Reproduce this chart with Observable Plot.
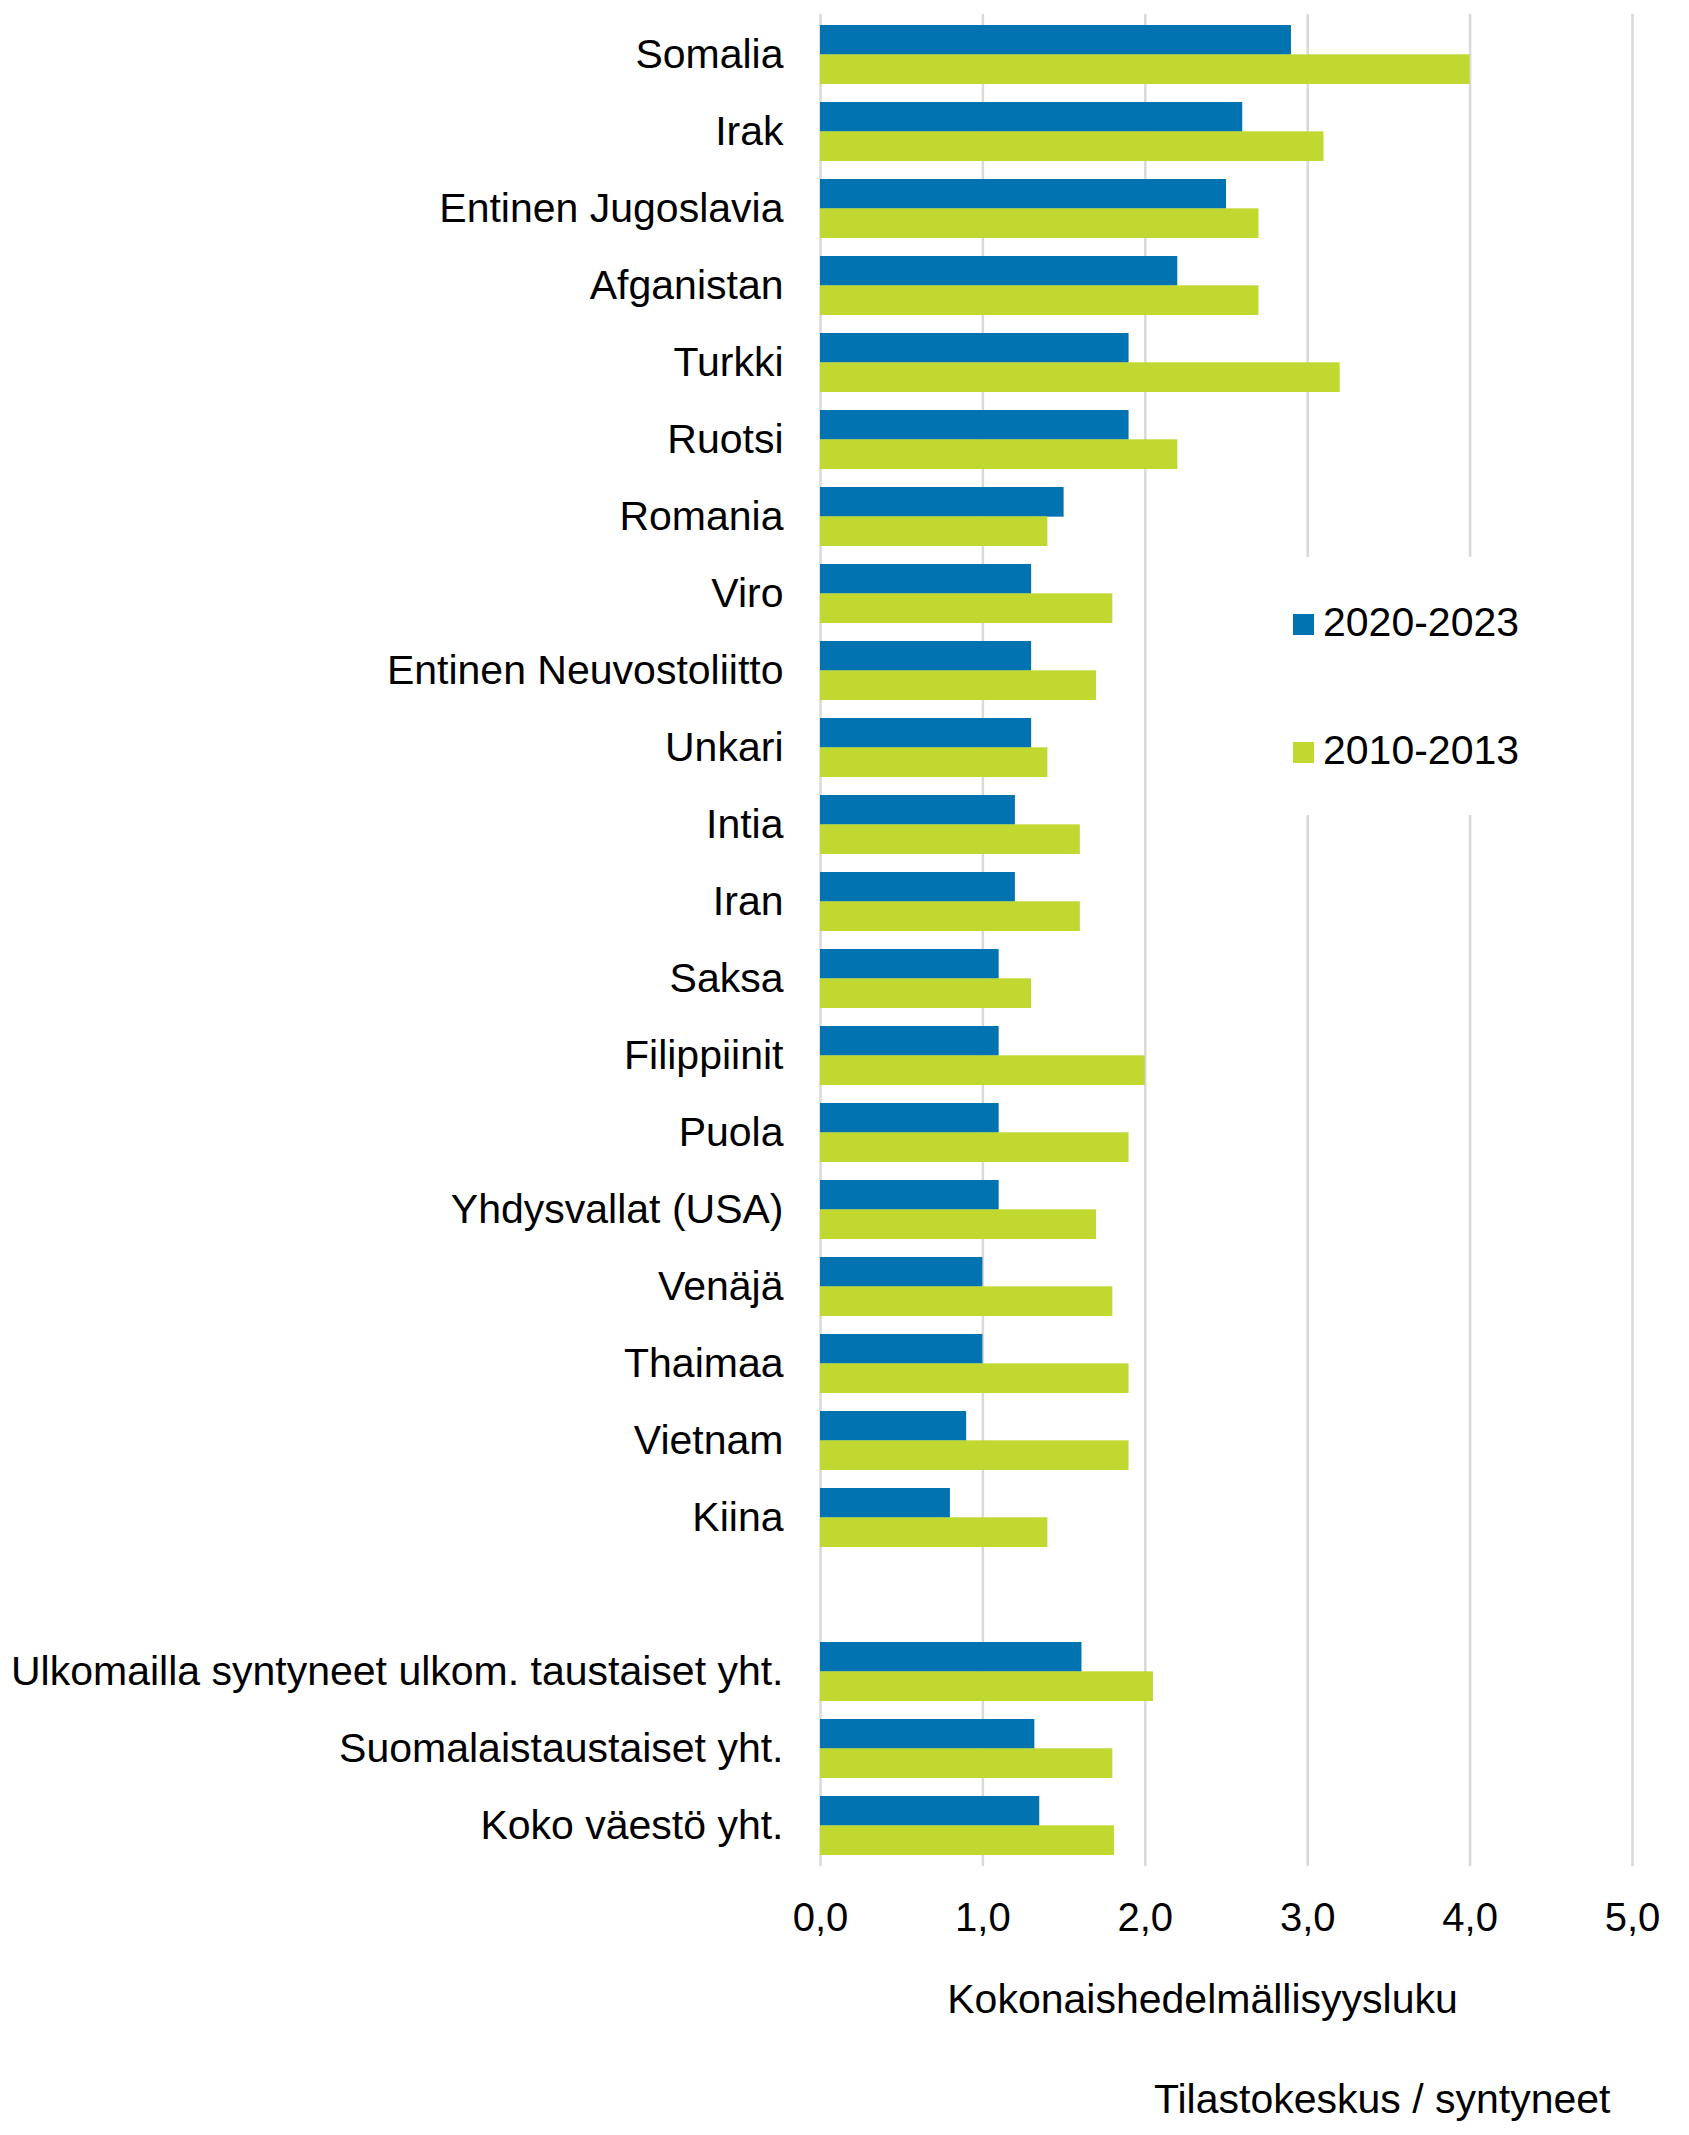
<!DOCTYPE html>
<html>
<head>
<meta charset="utf-8">
<script src="https://cdn.jsdelivr.net/npm/d3@7"></script>
<script src="https://cdn.jsdelivr.net/npm/@observablehq/plot@0.6"></script>
<style>
  html, body { margin: 0; padding: 0; background: #fff; }
  #wrap { position: relative; width: 1689px; height: 2135px; font-family: "Liberation Sans", Arial, sans-serif; }
  #legend { position: absolute; left: 1278px; top: 557px; width: 255px; height: 258px; background: #fff; }
  .item { position: absolute; left: 15px; font-size: 41px; line-height: 41px; color: #000; white-space: nowrap; }
  .sw { position: absolute; width: 21px; height: 21px; }
</style>
</head>
<body>
<div id="wrap"></div>
<script>
// ---- data ----
const categories = ["Somalia","Irak","Entinen Jugoslavia","Afganistan","Turkki","Ruotsi","Romania","Viro",
  "Entinen Neuvostoliitto","Unkari","Intia","Iran","Saksa","Filippiinit","Puola","Yhdysvallat (USA)",
  "Venäjä","Thaimaa","Vietnam","Kiina"," ",
  "Ulkomailla syntyneet ulkom. taustaiset yht.","Suomalaistaustaiset yht.","Koko väestö yht."];
const values2020 = [2.9,2.6,2.5,2.2,1.9,1.9,1.5,1.3,1.3,1.3,1.2,1.2,1.1,1.1,1.1,1.1,1.0,1.0,0.9,0.8,null,1.61,1.32,1.35];
const values2010 = [4.0,3.1,2.7,2.7,3.2,2.2,1.4,1.8,1.7,1.4,1.6,1.6,1.3,2.0,1.9,1.7,1.8,1.9,1.9,1.4,null,2.05,1.80,1.81];
const seriesNames = ["2020-2023","2010-2013"];
const xTicks = [0,1,2,3,4,5];
const axisTitle = "Kokonaishedelmällisyysluku";
const sourceText = "Tilastokeskus / syntyneet";

// ---- layout / style ----
const W = 1689, H = 2135;
const mTop = 14, frameBottom = 1866, mLeft = 820, mRight = 1689 - 1632;
const padInner = 0.24;
const colors = ["#0173b1", "#c0d830"];
const font = "'Liberation Sans', Arial, sans-serif";

const rows2020 = categories.map((c, i) => ({cat: c, v: values2020[i]})).filter(d => d.v != null);
const rows2010 = categories.map((c, i) => ({cat: c, v: values2010[i]})).filter(d => d.v != null);

const step = (frameBottom - mTop) / categories.length;
const half = step * (1 - padInner) / 2;

const fmt = d => d.toFixed(1).replace(".", ",");

const chart = Plot.plot({
  width: W,
  height: H,
  marginTop: mTop,
  marginBottom: H - frameBottom,
  marginLeft: mLeft,
  marginRight: mRight,
  style: {fontFamily: font, color: "#000", background: "#fff"},
  x: {domain: [0, 5]},
  y: {domain: categories, paddingInner: padInner, paddingOuter: padInner / 2},
  marks: [
    Plot.gridX(xTicks, {stroke: "#d9d9d9", strokeWidth: 2.5, strokeOpacity: 1}),
    Plot.barX(rows2020, {y: "cat", x: "v", fill: colors[0], insetBottom: half}),
    Plot.barX(rows2010, {y: "cat", x: "v", fill: colors[1], insetTop: half}),
    Plot.axisY({tickSize: 0, tickPadding: 37, fontSize: 41, label: null}),
    Plot.axisX(xTicks, {tickSize: 0, tickPadding: 36, fontSize: 40, tickFormat: fmt, label: null}),
    Plot.text([axisTitle], {text: d => d, frameAnchor: "bottom", dy: 146, dx: -24, fontSize: 41, fill: "#000"}),
    Plot.text([sourceText], {text: d => d, frameAnchor: "bottom-right", textAnchor: "end", dy: 246, dx: -22, fontSize: 41, fill: "#000"})
  ]
});

const wrap = document.getElementById("wrap");
wrap.appendChild(chart);

// legend (overlay, white box hides grid lines)
const legend = document.createElement("div");
legend.id = "legend";
const itemTops = [45, 173];
seriesNames.forEach((name, i) => {
  const sw = document.createElement("div");
  sw.className = "sw";
  sw.style.left = "15px";
  sw.style.top = (itemTops[i] + 12) + "px";
  sw.style.background = colors[i];
  legend.appendChild(sw);
  const t = document.createElement("div");
  t.className = "item";
  t.style.left = "45px";
  t.style.top = itemTops[i] + "px";
  t.textContent = name;
  legend.appendChild(t);
});
wrap.appendChild(legend);
</script>
</body>
</html>
